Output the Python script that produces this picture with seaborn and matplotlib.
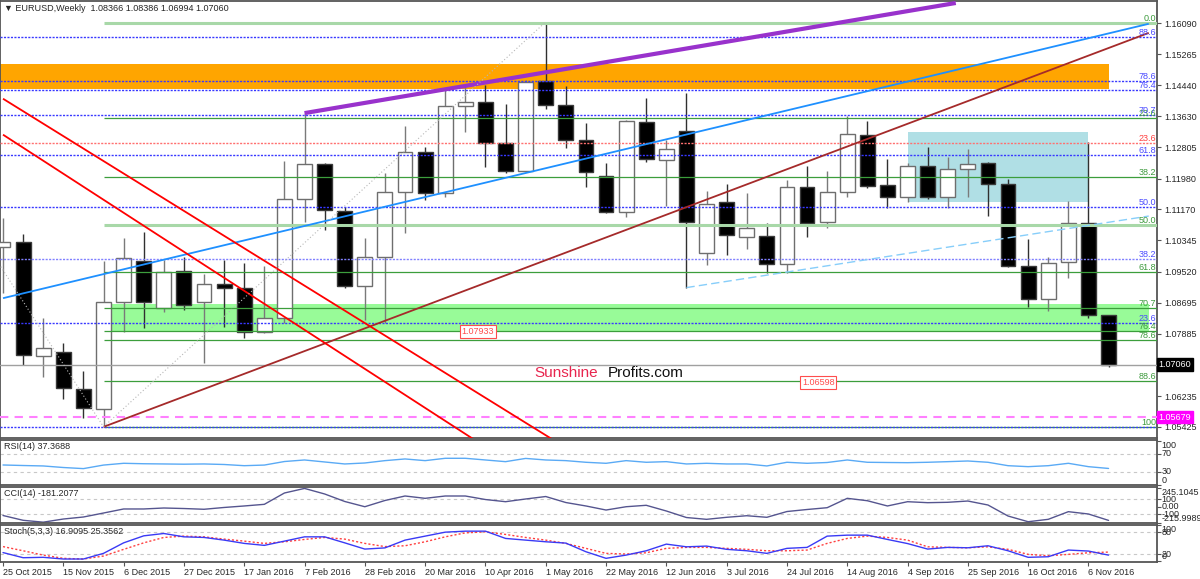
import matplotlib
matplotlib.use('Agg')
import matplotlib.pyplot as plt
import matplotlib.transforms as mtransforms
import pandas as pd
import seaborn as sns

sns.set_style('white')
plt.rcParams['font.family'] = ['Liberation Sans', 'DejaVu Sans']

# ---------------- data (weekly EURUSD) ----------------
dates = pd.date_range('2015-10-25', periods=56, freq='7D')
opens = [1.1017, 1.1030, 1.0729, 1.0740, 1.0642, 1.0589, 1.0872, 1.0980, 1.0856, 1.0953,
         1.0872, 1.0920, 1.0909, 1.0793, 1.0830, 1.1144, 1.1237, 1.1112, 1.0914, 1.0991,
         1.1163, 1.1268, 1.1160, 1.1390, 1.1400, 1.1292, 1.1218, 1.1456, 1.1392, 1.1300,
         1.1205, 1.1110, 1.1348, 1.1247, 1.1324, 1.1001, 1.1136, 1.1044, 1.1046, 1.0972,
         1.1176, 1.1083, 1.1163, 1.1313, 1.1181, 1.1149, 1.1231, 1.1149, 1.1223, 1.1239,
         1.1184, 1.0967, 1.0880, 1.0978, 1.1081, 1.08366]
highs = [1.1094, 1.1052, 1.0830, 1.0764, 1.0690, 1.0980, 1.1041, 1.1057, 1.0983, 1.0991,
         1.0946, 1.0983, 1.0975, 1.0967, 1.1244, 1.1371, 1.1239, 1.1123, 1.1041, 1.1213,
         1.1337, 1.1281, 1.1437, 1.1440, 1.1445, 1.1395, 1.1458, 1.1612, 1.1443, 1.1345,
         1.1239, 1.1353, 1.1411, 1.1300, 1.1424, 1.1165, 1.1184, 1.1160, 1.1081, 1.1194,
         1.1231, 1.1218, 1.1363, 1.1350, 1.1250, 1.1239, 1.1281, 1.1255, 1.1276, 1.1242,
         1.1197, 1.1038, 1.0991, 1.1139, 1.1295, 1.08386]
lows = [1.0896, 1.0705, 1.0674, 1.0616, 1.0565, 1.0542, 1.0793, 1.0803, 1.0845, 1.0851,
        1.0711, 1.0806, 1.0777, 1.0790, 1.0816, 1.1083, 1.1062, 1.0909, 1.0824, 1.0816,
        1.1054, 1.1141, 1.1149, 1.1321, 1.1229, 1.1213, 1.1215, 1.1382, 1.1279, 1.1176,
        1.1107, 1.1096, 1.1242, 1.1126, 1.0909, 1.0970, 1.0996, 1.1012, 1.0949, 1.0949,
        1.1044, 1.1067, 1.1149, 1.1173, 1.1120, 1.1136, 1.1144, 1.1120, 1.1149, 1.1099,
        1.0964, 1.0859, 1.0848, 1.0935, 1.0830, 1.06994]
closes = [1.1030, 1.0732, 1.0750, 1.0645, 1.0592, 1.0872, 1.0988, 1.0872, 1.0951, 1.0864,
          1.0920, 1.0909, 1.0793, 1.0830, 1.1144, 1.1237, 1.1115, 1.0914, 1.0991, 1.1163,
          1.1268, 1.1160, 1.1390, 1.1400, 1.1292, 1.1218, 1.1453, 1.1392, 1.1300, 1.1215,
          1.1110, 1.1350, 1.1250, 1.1276, 1.1083, 1.1131, 1.1049, 1.1067, 1.0972, 1.1176,
          1.1081, 1.1163, 1.1316, 1.1178, 1.1149, 1.1231, 1.1149, 1.1223, 1.1237, 1.1184,
          1.0967, 1.0880, 1.0975, 1.1081, 1.0838, 1.07060]

rsi = [45.2, 44, 43, 39.5, 37, 45, 49, 48, 47.5, 47,
       47.5, 46.3, 43.6, 45, 53, 56.5, 52, 47.5, 49.7, 55,
       58.8, 55, 60.3, 60.3, 56.5, 52.7, 60, 56.5, 55, 51.3,
       49, 55, 51.3, 52.7, 47.5, 49, 47.5, 47.5, 43, 51.3,
       49, 50.8, 56.5, 51.3, 50.8, 50.4, 51.3, 52.7, 54.2, 51.3,
       43.6, 41.4, 43.6, 49, 41.4, 37.37]
cci = [-116, -180, -205, -163, -136, -83, -29, -29, -16, -23,
       -33, -9, 11, 33, 184, 245, 171, 71, 1, 84,
       144, 113, 144, 144, 97, 68, 104, 137, 57, 11,
       -43, 1, 20, -56, -143, -167, -140, -119, -140, -63,
       -36, -12, 113, 81, 11, 68, 55, 60, 77, 24,
       -123, -199, -167, -65, -96, -181.2]
stoch_main = [24, 9.7, 10.8, 6.1, 6.1, 21.8, 51, 70.5, 77, 67.7,
              66, 58.6, 49.5, 44, 55.8, 67.7, 67.7, 51, 33.7, 37,
              58.6, 69.7, 80.7, 83.5, 83.5, 63.3, 58.6, 54, 50.3, 26.3,
              8, 17, 29, 47.5, 40, 42, 33, 29, 21.8, 35.7,
              38.4, 69.7, 72.4, 72.4, 60.5, 49, 33.7, 38.4, 37.3, 42.9,
              29, 10.8, 12.4, 31, 28.2, 16.91]
stoch_signal = [40.6, 29, 17, 8, 6, 14.4, 32.9, 51, 66, 69.7,
                67.7, 61.4, 55.8, 49.5, 54, 60.5, 66, 61.4, 49.5, 40.6,
                42.9, 54, 67.7, 78.8, 81.6, 74.4, 66, 58.6, 49.5, 35.7,
                21.8, 19.9, 23.5, 35.7, 38.4, 38.4, 35.7, 33, 29, 29,
                31, 49.5, 63.3, 69.7, 66, 58.6, 40, 38.4, 37.3, 40,
                33, 19, 15.2, 19, 23.5, 25.36]

price_ticks = [1.16090, 1.15265, 1.14440, 1.13630, 1.12805, 1.11980, 1.11170,
               1.10345, 1.09520, 1.08695, 1.07885, 1.06235, 1.05425]
last_price = 1.07060
support_price = 1.05679

# fibonacci sets
green_fib = (1.0542, 1.1610)          # low, high  (0.0 at the high)
green_levels = [0.0, 23.6, 38.2, 50.0, 61.8, 70.7, 76.4, 78.6, 88.6, 100]
blue_fib = (1.0542, 1.1706)           # 0 at the low
blue_levels = [23.6, 38.2, 50.0, 61.8, 70.7, 76.4, 78.6, 88.6]
red_level = 1.1293

# trend lines: (bar index pair, price pair)
purple_line = ([15, 47.4], [1.1371, 1.1662])
blue_line = ([0, 57], [1.0882, 1.1607])
brown_line = ([5, 57], [1.0542, 1.1583])
dash_line = ([34, 57], [1.0910, 1.1099])
red_line_a = ([0, 28], [1.1409, 1.0487])
red_line_b = ([0, 24], [1.1314, 1.0489])
fib_trend_1 = ([5, 27], [1.0542, 1.1612])
fib_trend_2 = ([-1, 5], [1.1039, 1.0542])

# zones: (x0, x1, y0, y1)
orange_zone = (-1, 55, 1.1435, 1.1501)
green_zone = (5, 57, 1.0793, 1.0867)
blue_box = (45, 54, 1.1135, 1.1322)

price_marks = [(22.8, 1.07933), (39.75, 1.06598)]

# ---------------- figure ----------------
fig = plt.figure(figsize=(12, 5.79), dpi=100)
fig.patch.set_facecolor('white')


def panel(top, bottom):
    return fig.add_axes([0, 1 - bottom / 579, 1157 / 1200, (bottom - top) / 579])


ax = panel(1, 438)
ax_rsi = panel(440, 485)
ax_cci = panel(487, 523)
ax_sto = panel(525, 562)
x = list(range(len(dates)))
XLIM = (-0.15, 57.41)
FS = 6.5

for a in (ax, ax_rsi, ax_cci, ax_sto):
    a.set_xlim(*XLIM)
    a.set_facecolor('white')
    for s in a.spines.values():
        s.set_color('#555555')
        s.set_linewidth(1.3)
    a.tick_params(axis='x', bottom=False, labelbottom=False)

ax.set_ylim(1.05126, 1.16672)

# zones (behind the candles)
for (x0, x1, y0, y1), col in [(orange_zone, '#FFA500'), (green_zone, '#98FB98'), (blue_box, '#B0DFE5')]:
    ax.fill_between([x0, x1], y0, y1, color=col, lw=0, zorder=0)

# candles
for i in x:
    o, h, l, c = opens[i], highs[i], lows[i], closes[i]
    bull = c >= o
    wick = '#7a7a7a' if bull else '#303030'
    ax.vlines(i, l, h, color=wick, lw=1, zorder=3)
    ax.bar(i, max(abs(c - o), 0.00025), bottom=min(o, c), width=0.74,
           color='white' if bull else 'black', edgecolor='#6e6e6e' if bull else '#3a3a3a',
           lw=1, zorder=4)

# horizontal levels
lo, hi = green_fib
for r in green_levels:
    lvl = hi - r / 100 * (hi - lo)
    light = r in (0.0, 50.0)
    ax.hlines(lvl, 5, XLIM[1], color='#a8d8a8' if light else '#3c9e3c',
              lw=2.2 if light else 0.9, zorder=5)
    ax.text(57.36, lvl, '100' if r == 100 else f'{r:.1f}', color='#3c9a3c', fontsize=FS,
            ha='right', va='bottom', zorder=9)
lo, hi = blue_fib
for r in blue_levels:
    lvl = lo + r / 100 * (hi - lo)
    ax.axhline(lvl, color='#8080ff' if r == 38.2 else '#3838ff', lw=1,
               ls=(0, (1.5, 1)), zorder=5)
    ax.text(57.36, lvl, f'{r:.1f}', color='#4a4aff', fontsize=FS, ha='right', va='bottom', zorder=9)
ax.axhline(blue_fib[0], color='#3838ff', lw=1, ls=(0, (1.5, 1)), zorder=5)
ax.axhline(red_level, color='#ff7070', lw=1, ls=(0, (1.5, 1)), zorder=5)
ax.text(57.36, red_level, '23.6', color='#ff4040', fontsize=FS, ha='right', va='bottom', zorder=9)
ax.axhline(last_price, color='#a0a0a0', lw=1, zorder=5)
ax.axhline(support_price, color='#ff80ff', lw=1.5, ls=(0, (4, 3)), zorder=5)

# trend lines
for (xs, ys), col, lw, ls in [(purple_line, '#9932CC', 3, '-'), (blue_line, '#1E90FF', 1.3, '-'),
                              (brown_line, '#A52A2A', 1.3, '-'), (dash_line, '#87CEFA', 1, (0, (6, 3))),
                              (red_line_a, '#FF0000', 1.3, '-'), (red_line_b, '#FF0000', 1.3, '-'),
                              (fib_trend_1, '#b8b8b8', 0.8, (0, (1, 2))),
                              (fib_trend_2, '#b8b8b8', 0.8, (0, (1, 2)))]:
    ax.plot(xs, ys, color=col, lw=lw, ls=ls, zorder=6, solid_capstyle='butt')

for px, val in price_marks:
    ax.text(px, val, f'{val:.5f}', color='#ff4d4d', fontsize=FS, ha='left', va='center', zorder=9,
            bbox=dict(boxstyle='square,pad=0.2', fc='white', ec='#ff4d4d', lw=0.8))

ax.text(26.42, 1.0684, 'Sunshine', color='#e8254e', fontsize=11, ha='left', va='center', zorder=9)
ax.text(30.1, 1.0684, 'Profits.com', color='#111111', fontsize=11, ha='left', va='center', zorder=9)

ax.annotate('\u25bc EURUSD,Weekly  1.08366 1.08386 1.06994 1.07060', xy=(0, 1), xycoords='axes fraction',
            xytext=(4, -3), textcoords='offset pixels', ha='left', va='top', fontsize=FS, zorder=10)

ax.yaxis.tick_right()
ax.set_yticks(price_ticks)
ax.set_yticklabels([f'{t:.5f}' for t in price_ticks])
ax.tick_params(axis='y', length=3, width=0.8, labelsize=FS, pad=2, color='#555555')

blend = mtransforms.blended_transform_factory(ax.transAxes, ax.transData)
ax.text(1.0015, last_price, f'{last_price:.5f}', transform=blend, color='white', fontsize=FS,
        ha='left', va='center', bbox=dict(boxstyle='square,pad=0.2', fc='black', ec='black'))
ax.text(1.0015, support_price, f'{support_price:.5f}', transform=blend, color='white', fontsize=FS,
        ha='left', va='center', bbox=dict(boxstyle='square,pad=0.2', fc='#ff00ff', ec='#ff00ff'))

# ---------------- indicators ----------------
ind = pd.DataFrame({'bar': x, 'rsi': rsi, 'cci': cci, 'main': stoch_main, 'signal': stoch_signal})


def side_labels(a, items, grid):
    tr = mtransforms.blended_transform_factory(a.transAxes, a.transData)
    for val, txt, va in items:
        a.text(1.004, val, txt, transform=tr, fontsize=FS, ha='left', va=va, clip_on=False)
    for g in grid:
        a.axhline(g, color='#c8c8c8', lw=0.8, ls=(0, (3, 3)), zorder=0)
    a.yaxis.tick_right()
    a.set_yticks([v for v, _, _ in items])
    a.set_yticklabels([])
    a.tick_params(axis='y', length=3, width=0.8, color='#555555')
    a.set_xlabel('')
    a.set_ylabel('')


ax_rsi.set_ylim(0, 101.6)
sns.lineplot(data=ind, x='bar', y='rsi', ax=ax_rsi, color='#5aaaf5', lw=1)
side_labels(ax_rsi, [(100, '100', 'top'), (70, '70', 'center'), (30, '30', 'center'), (0, '0', 'bottom')], [70, 30])
ax_rsi.annotate('RSI(14) 37.3688', xy=(0, 1), xycoords='axes fraction', xytext=(4, -2),
                textcoords='offset pixels', ha='left', va='top', fontsize=FS)

ax_cci.set_ylim(-216, 264)
sns.lineplot(data=ind, x='bar', y='cci', ax=ax_cci, color='#55558f', lw=1)
side_labels(ax_cci, [(245.1045, '245.1045', 'top'), (100, '100', 'center'), (0, '0.00', 'center'),
                     (-100, '-100', 'center'), (-215.9989, '-215.9989', 'bottom')], [100, -100])
ax_cci.annotate('CCI(14) -181.2077', xy=(0, 1), xycoords='axes fraction', xytext=(4, -2),
                textcoords='offset pixels', ha='left', va='top', fontsize=FS)

ax_sto.set_ylim(-2.2, 100.6)
sns.lineplot(data=ind, x='bar', y='signal', ax=ax_sto, color='#ff4040', lw=1, ls=(0, (1.5, 1.5)))
sns.lineplot(data=ind, x='bar', y='main', ax=ax_sto, color='#3a3af5', lw=1)
side_labels(ax_sto, [(100, '100', 'top'), (80, '80', 'center'), (20, '20', 'center'), (0, '0', 'bottom')], [80, 20])
ax_sto.annotate('Stoch(5,3,3) 16.9095 25.3562', xy=(0, 1), xycoords='axes fraction', xytext=(4, -2),
                textcoords='offset pixels', ha='left', va='top', fontsize=FS)

tick_idx = x[::3]
ax_sto.set_xticks(tick_idx)
ax_sto.set_xticklabels([f'{dates[i].day} {dates[i].strftime("%b %Y")}' for i in tick_idx], ha='left')
ax_sto.tick_params(axis='x', bottom=True, labelbottom=True, length=3, width=0.8, pad=1,
                   labelsize=FS, color='#555555')
for a in (ax, ax_rsi, ax_cci):
    a.set_xticks([])

fig.savefig('out.png', dpi=100, facecolor='white')
